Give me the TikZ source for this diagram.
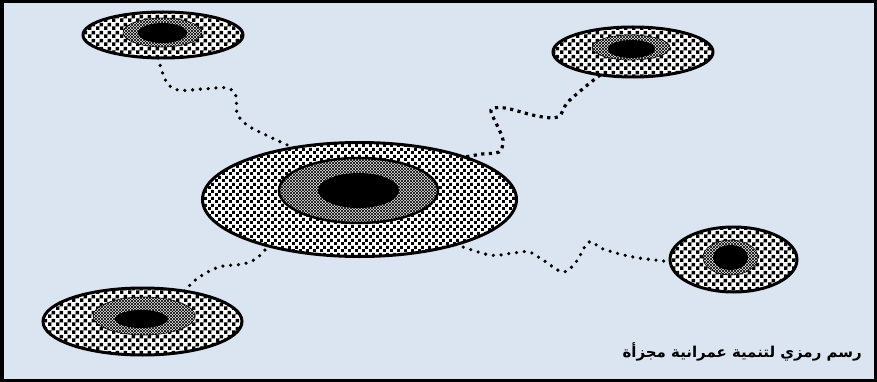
\documentclass[tikz,border=0pt]{standalone}
\usepackage{fontspec}
\usetikzlibrary{shapes.geometric,patterns}
\newfontfamily\arabicfont[Script=Arabic]{DejaVu Sans}
\TeXXeTstate=1
\definecolor{bgblue}{RGB}{219,229,241}
\pgfdeclarepatternformonly{dotsfine}{\pgfpointorigin}{\pgfqpoint{6.5pt}{6.5pt}}{\pgfqpoint{6.5pt}{6.5pt}}{%
  \pgfpathrectangle{\pgfqpoint{0pt}{0pt}}{\pgfqpoint{3.2pt}{3.2pt}}%
  \pgfpathrectangle{\pgfqpoint{3.25pt}{3.25pt}}{\pgfqpoint{3.2pt}{3.2pt}}%
  \pgfusepath{fill}}
\pgfdeclarepatternformonly{dotscoarse}{\pgfpointorigin}{\pgfqpoint{8pt}{8pt}}{\pgfqpoint{8pt}{8pt}}{%
  \pgfpathrectangle{\pgfqpoint{0pt}{0pt}}{\pgfqpoint{3.9pt}{3.9pt}}%
  \pgfpathrectangle{\pgfqpoint{4pt}{4pt}}{\pgfqpoint{3.9pt}{3.9pt}}%
  \pgfusepath{fill}}
\pgfdeclarepatternformonly{xhatch}{\pgfqpoint{-0.5pt}{-0.5pt}}{\pgfqpoint{3.5pt}{3.5pt}}{\pgfqpoint{3pt}{3pt}}{%
  \pgfsetlinewidth{0.55pt}%
  \pgfpathmoveto{\pgfqpoint{0pt}{0pt}}\pgfpathlineto{\pgfqpoint{3pt}{3pt}}%
  \pgfpathmoveto{\pgfqpoint{0pt}{3pt}}\pgfpathlineto{\pgfqpoint{3pt}{0pt}}%
  \pgfusepath{stroke}}
\pgfdeclarelayer{bg}
\pgfsetlayers{bg,main}
\tikzset{
  ell/.style={ellipse, inner sep=0pt, outer sep=0pt},
  outerring/.style={ell, draw, line width=3pt, preaction={fill=white}},
  bigouter/.style={outerring, pattern=dotsfine},
  smallouter/.style={outerring, pattern=dotscoarse},
  midring/.style={ell, draw, preaction={fill=white}, pattern=xhatch},
  core/.style={ell, fill=black},
  roundpath/.style={line width=3.6pt, line cap=round, dash pattern=on 0pt off 7.8pt},
  squarepath/.style={line width=3.2pt, line cap=butt, dash pattern=on 3.2pt off 4.4pt},
}
\begin{document}
\begin{tikzpicture}[x=1pt,y=-1pt]
\useasboundingbox (0,0) rectangle (877,382);
\begin{pgfonlayer}{bg}
\fill[bgblue] (0,0) rectangle (877,382);
\end{pgfonlayer}
% big settlement
\node[bigouter, minimum width=314pt, minimum height=114pt] (big) at (359.5,199.5) {};
\node[midring, line width=2.5pt, minimum width=159pt, minimum height=65pt] (bigm) at (358.5,190.5) {};
\node[core, minimum width=81pt, minimum height=35pt] (bigc) at (358.5,190.5) {};
% top left
\node[smallouter, minimum width=160pt, minimum height=46pt] (tl) at (163,35) {};
\node[midring, line width=0.6pt, minimum width=79pt, minimum height=29pt] (tlm) at (162.5,32.5) {};
\node[core, minimum width=49pt, minimum height=20pt] (tlc) at (162.5,33) {};
% top right
\node[smallouter, minimum width=160pt, minimum height=50pt] (tr) at (633,52) {};
\node[midring, line width=0.6pt, minimum width=78pt, minimum height=25pt] (trm) at (631,47.5) {};
\node[core, minimum width=47pt, minimum height=18pt] (trc) at (631.5,49) {};
% bottom left
\node[smallouter, minimum width=199pt, minimum height=67pt] (bl) at (142.5,321.5) {};
\node[midring, line width=0.6pt, minimum width=102pt, minimum height=38pt] (blm) at (144,316) {};
\node[core, minimum width=53pt, minimum height=18pt] (blc) at (141.5,319) {};
% bottom right
\node[smallouter, minimum width=127pt, minimum height=65pt] (br) at (733.5,259.5) {};
\node[midring, line width=0.6pt, minimum width=55pt, minimum height=35pt] (brm) at (730.5,257.5) {};
\node[core, minimum width=35pt, minimum height=25pt] (brc) at (730.5,257.5) {};
% connectors
\begin{pgfonlayer}{bg}
\draw[roundpath] plot[smooth, tension=0.6] coordinates {(tl.-102) (166,81) (178,90) (203,89) (227,88) (236,96) (237,113) (247,125) (268,136) (big.142.5)};
\draw[squarepath] plot[smooth, tension=0.55] coordinates {(tr.-145) (585,87) (567,103) (558,117) (537,116) (505,108) (491,110) (497,125) (503,140) (499,152) (482,154) (big.22)};
\draw[roundpath] plot[smooth, tension=0.6] coordinates {(big.-25) (490,255) (513,253) (529,252) (543,260) (563,272) (576,262) (589,242) (603,249) (633,257) (br.182)};
\draw[roundpath] plot[smooth, tension=0.6] coordinates {(bl.36) (198,278) (219,267) (243,264) (257,258) (big.-153)};
\end{pgfonlayer}
% caption
\node[font=\arabicfont\bfseries\fontsize{15}{18}\selectfont, anchor=east, inner sep=0pt] (cap) at (862,352) {\beginR رسم رمزي لتنمية عمرانية مجزأة\endR};
% frame
\draw[line width=3.5pt] (1.75,1.75) rectangle (875.25,380.25);
\end{tikzpicture}
\end{document}
